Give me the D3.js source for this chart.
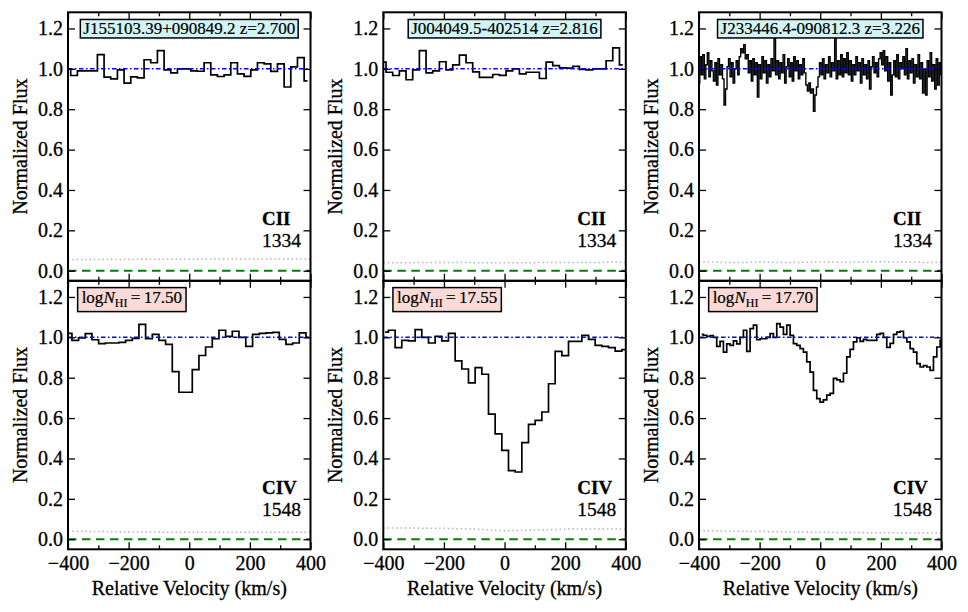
<!DOCTYPE html>
<html>
<head>
<meta charset="utf-8">
<script src="https://cdn.jsdelivr.net/npm/d3@7"></script>
<style>
  body { margin: 0; background: #fff; }
  text { font-family: "Liberation Serif", "Times New Roman", serif; fill: #000; stroke: #000; stroke-width: 0.3px; }
</style>
</head>
<body>
<div id="chart"></div>
<script>
// ---- data ----
const qsoLabels = ["J155103.39+090849.2 z=2.700", "J004049.5-402514 z=2.816", "J233446.4-090812.3 z=3.226"];
const logNValues = ["17.50", "17.55", "17.70"];
const ionTop = ["CII", "1334"];
const ionBottom = ["CIV", "1548"];

const errVel = [-400, -300, -200, -100, 0, 100, 200, 300, 400];

// column 1, CII 1334
const vel1a = [-402, -380, -358, -336, -314, -292, -270, -248, -226, -204, -182, -160, -138, -116, -94, -72, -50, -28, -6,
  16, 38, 60, 82, 104, 126, 148, 170, 192, 214, 236, 258, 280, 302, 324, 346, 368, 390];
const flux1a = [1.0, 0.967, 0.99, 0.99, 0.99, 1.07, 0.959, 0.95, 0.995, 0.929, 0.96, 0.955, 1.045, 1.03, 1.09, 0.995, 0.98, 1.0, 1.0,
  0.99, 0.988, 1.03, 0.97, 0.962, 0.97, 1.03, 0.975, 0.963, 0.995, 1.03, 1.025, 0.987, 1.025, 0.91, 1.01, 1.055, 0.94];
const err1a = [0.055, 0.055, 0.056, 0.057, 0.057, 0.058, 0.058, 0.058, 0.058];

// column 1, CIV 1548
const vel1b = [-398, -376, -354, -332, -310, -288, -265, -243, -221, -199, -177, -155, -133, -111, -89, -67, -45, -23, -1,
  21, 43, 65, 87, 109, 131, 153, 175, 198, 220, 242, 264, 286, 308, 330, 352, 374, 396];
const flux1b = [1.02, 0.985, 0.997, 1.018, 0.988, 0.969, 0.972, 0.972, 0.975, 0.985, 0.995, 1.064, 0.993, 1.015, 0.985, 0.965, 0.83, 0.728, 0.728,
  0.84, 0.91, 0.952, 0.993, 1.035, 1.005, 1.03, 1.0, 0.955, 1.015, 1.02, 1.022, 1.025, 0.99, 0.965, 0.972, 1.022, 1.0];
const err1b = [0.04, 0.038, 0.036, 0.035, 0.035, 0.034, 0.034, 0.035, 0.035];

// column 2, CII 1334
const vel2a = [-402, -380, -358, -336, -314, -292, -270, -248, -226, -204, -182, -160, -138, -116, -94, -72, -50, -28, -6,
  16, 38, 60, 82, 104, 126, 148, 170, 192, 214, 236, 258, 280, 302, 324, 346, 368, 390];
const flux2a = [1.033, 0.983, 0.967, 0.99, 0.946, 0.995, 1.09, 0.98, 0.99, 1.035, 0.995, 1.02, 1.068, 1.03, 0.985, 0.958, 0.958, 0.972, 0.968,
  0.99, 1.0, 0.975, 0.983, 0.983, 0.952, 1.033, 1.016, 1.005, 1.003, 1.012, 0.997, 0.995, 1.0, 1.0, 1.04, 1.104, 1.02];
const err2a = [0.04, 0.04, 0.041, 0.04, 0.04, 0.04, 0.041, 0.041, 0.042];

// column 2, CIV 1548
const vel2b = [-394, -372, -350, -328, -306, -284, -262, -240, -218, -196, -174, -152, -130, -108, -86, -64, -42, -20, 2,
  24, 46, 68, 90, 112, 134, 156, 178, 200, 222, 244, 266, 288, 310, 332, 354, 376, 398];
const flux2b = [1.026, 1.035, 0.949, 0.985, 0.982, 1.038, 1.0, 0.972, 1.005, 0.982, 1.02, 0.883, 0.843, 0.774, 0.85, 0.817, 0.62, 0.522, 0.44,
  0.34, 0.333, 0.478, 0.569, 0.589, 0.63, 0.77, 0.93, 0.909, 0.98, 0.98, 1.01, 0.99, 0.96, 0.955, 0.949, 0.932, 0.939];
const err2b = [0.055, 0.055, 0.054, 0.05, 0.042, 0.045, 0.05, 0.05, 0.05];

// column 3, CII 1334 (high resolution)
const vel3a = [-400, -395, -390, -385, -380, -375, -370, -365, -360, -355, -350, -345, -340, -335, -330, -325, -320, -315, -310, -305,
  -300, -295, -290, -285, -280, -275, -270, -265, -260, -255, -250, -245, -240, -235, -230, -225, -220, -215, -210, -205,
  -200, -195, -190, -185, -180, -175, -170, -165, -160, -155, -150, -145, -140, -135, -130, -125, -120, -115, -110, -105,
  -100, -95, -90, -85, -80, -75, -70, -65, -60, -55, -50, -45, -40, -35, -30, -25, -20, -15, -10, -5,
  0, 5, 10, 15, 20, 25, 30, 35, 40, 45, 50, 55, 60, 65, 70, 75, 80, 85, 90, 95,
  100, 105, 110, 115, 120, 125, 130, 135, 140, 145, 150, 155, 160, 165, 170, 175, 180, 185, 190, 195,
  200, 205, 210, 215, 220, 225, 230, 235, 240, 245, 250, 255, 260, 265, 270, 275, 280, 285, 290, 295,
  300, 305, 310, 315, 320, 325, 330, 335, 340, 345, 350, 355, 360, 365, 370, 375, 380, 385, 390, 395, 400];
const flux3a = [0.93, 1.06, 0.97, 1.07, 0.95, 1.02, 1.08, 0.96, 1.04, 0.99, 0.94, 1.03, 0.92, 1.05, 0.97, 1.02, 0.95, 0.82, 0.9, 1.01,
  1.05, 0.96, 1.03, 0.93, 1.0, 1.04, 0.97, 1.06, 1.1, 1.08, 1.12, 1.05, 1.07, 0.98, 1.04, 0.94, 1.05, 0.97, 1.03, 0.86,
  1.02, 0.95, 1.06, 0.98, 1.04, 0.93, 1.02, 0.96, 1.05, 0.99, 1.18, 0.97, 1.04, 0.95, 1.03, 0.98, 1.07, 0.93, 1.01, 1.05,
  0.96, 1.03, 0.94, 1.06, 0.99, 1.04, 0.95, 1.02, 0.97, 1.05, 0.98, 0.92, 0.89, 0.93, 0.88, 0.9, 0.79, 0.87, 0.91, 0.96,
  1.03, 0.97, 1.05, 0.95, 1.02, 0.98, 1.06, 0.96, 1.03, 0.99, 1.18, 0.95, 1.04, 0.97, 1.07, 0.96, 1.05, 0.98, 1.08, 0.97,
  1.04, 0.94, 1.02, 0.97, 1.06, 0.99, 1.03, 0.93, 1.05, 0.97, 1.02, 0.95, 1.04, 0.9, 1.01, 1.06, 0.98, 1.03, 0.96, 1.05,
  1.08, 1.02, 1.09, 0.99, 1.06, 0.94, 1.03, 0.87, 0.97, 1.04, 0.96, 1.07, 0.95, 1.03, 1.0, 1.06, 0.97, 1.1, 0.95, 1.04,
  0.98, 1.05, 0.93, 1.02, 0.96, 1.07, 0.95, 1.03, 0.88, 1.0, 0.87, 1.04, 0.96, 1.08, 0.94, 1.02, 0.9, 1.05, 0.92, 1.03, 0.97];
const err3a = [0.045, 0.04, 0.042, 0.04, 0.043, 0.041, 0.044, 0.042, 0.04];

// column 3, CIV 1548
const vel3b = [-391, -380, -369, -358, -347, -336, -325, -314, -303, -292, -281, -270, -259, -248, -237, -226, -215, -204, -193, -182,
  -171, -160, -149, -138, -127, -116, -105, -94, -83, -72, -61, -50, -39, -28, -17, -6, 5, 16, 27, 38,
  49, 60, 71, 82, 93, 104, 115, 126, 137, 148, 159, 170, 181, 192, 203, 214, 225, 236, 247, 258,
  269, 280, 291, 302, 313, 324, 335, 346, 357, 368, 379, 390, 401];
const flux3b = [1.015, 1.01, 1.005, 1.008, 1.0, 0.955, 0.98, 0.927, 0.968, 0.96, 0.982, 0.968, 1.0, 1.035, 0.93, 1.043, 1.06, 0.988, 0.993, 0.993,
  1.0, 1.018, 1.0, 1.068, 1.051, 1.015, 1.06, 1.01, 0.969, 0.96, 0.944, 0.927, 0.878, 0.828, 0.737, 0.696, 0.679, 0.69, 0.714, 0.722,
  0.797, 0.789, 0.78, 0.822, 0.903, 0.94, 0.977, 0.998, 0.98, 0.99, 0.985, 0.985, 0.985, 1.015, 1.02, 1.0, 0.95, 0.97, 1.015, 1.026,
  1.03, 0.998, 0.977, 0.944, 0.927, 0.87, 0.853, 0.86, 0.853, 0.836, 0.903, 0.952, 0.985];
const err3b = [0.043, 0.04, 0.038, 0.036, 0.034, 0.033, 0.032, 0.031, 0.03];

const xMajor = [-400, -200, 0, 200, 400];
const xMinor = [-300, -100, 100, 300];
const yTicks = [0, 0.2, 0.4, 0.6, 0.8, 1.0, 1.2];

// ---- layout ----
const width = 968, height = 612;
const panelW = 242.5, panelH = 268.5;
const colLeft = [68, 383.3, 699];
const topY = 12.3;
const serif = '"Liberation Serif", "Times New Roman", serif';

const svg = d3.select("#chart").append("svg")
  .attr("width", width)
  .attr("height", height);

const x = d3.scaleLinear().domain([-400, 400]).range([0, panelW]);
const y = d3.scaleLinear().domain([-0.05, 1.28]).range([panelH, 0]);

const panels = [
  {col: 0, row: 0, vel: vel1a, flux: flux1a, err: err1a, lw: 1.7},
  {col: 0, row: 1, vel: vel1b, flux: flux1b, err: err1b, lw: 1.7},
  {col: 1, row: 0, vel: vel2a, flux: flux2a, err: err2a, lw: 1.7},
  {col: 1, row: 1, vel: vel2b, flux: flux2b, err: err2b, lw: 1.7},
  {col: 2, row: 0, vel: vel3a, flux: flux3a, err: err3a, lw: 1.4},
  {col: 2, row: 1, vel: vel3b, flux: flux3b, err: err3b, lw: 1.7}
];

panels.forEach(p => drawPanel(p));

function styleAxis(sel) {
  sel.select(".domain").remove();
  sel.attr("font-family", serif).attr("font-size", 20);
  sel.selectAll("line").attr("stroke", "#000").attr("stroke-width", 1.3);
}

function drawPanel(p) {
  const g = svg.append("g")
    .attr("transform", `translate(${colLeft[p.col]},${topY + p.row * panelH})`);

  const clipId = `clip${p.col}${p.row}`;
  g.append("clipPath").attr("id", clipId)
    .append("rect").attr("width", panelW).attr("height", panelH);

  const plot = g.append("g").attr("clip-path", `url(#${clipId})`);

  const errLine = d3.line().x(d => x(d[0])).y(d => y(d[1]));
  const stepLine = d3.line().x(d => x(d[0])).y(d => y(d[1])).curve(d3.curveStep);

  // error spectrum
  plot.append("path")
    .datum(d3.zip(errVel, p.err))
    .attr("d", errLine)
    .attr("fill", "none")
    .attr("stroke", "#b4b4b4")
    .attr("stroke-width", 1.5)
    .attr("stroke-dasharray", "1.5,2.8");

  // zero level
  plot.append("line")
    .attr("x1", x(-400)).attr("x2", x(400))
    .attr("y1", y(0)).attr("y2", y(0))
    .attr("stroke", "#008000")
    .attr("stroke-width", 2)
    .attr("stroke-dasharray", "8.5,5.5");

  // flux
  plot.append("path")
    .datum(d3.zip(p.vel, p.flux))
    .attr("d", stepLine)
    .attr("fill", "none")
    .attr("stroke", "#000")
    .attr("stroke-width", p.lw)
    .attr("stroke-linejoin", "miter");

  // continuum
  plot.append("line")
    .attr("x1", x(-400)).attr("x2", x(400))
    .attr("y1", y(1)).attr("y2", y(1))
    .attr("stroke", "#0000ff")
    .attr("stroke-width", 1.5)
    .attr("stroke-dasharray", "4.5,2.5,1.5,2.5");

  // axes, ticks pointing inwards
  g.append("g")
    .call(d3.axisLeft(y).tickValues(yTicks).tickFormat(d3.format(".1f")).tickSize(-7).tickPadding(5))
    .call(styleAxis);
  g.append("g")
    .attr("transform", `translate(${panelW},0)`)
    .call(d3.axisRight(y).tickValues(yTicks).tickFormat("").tickSize(-7))
    .call(styleAxis);

  g.append("g")
    .call(d3.axisTop(x).tickValues(xMajor).tickFormat("").tickSize(-7))
    .call(styleAxis);
  g.append("g")
    .call(d3.axisTop(x).tickValues(xMinor).tickFormat("").tickSize(-4))
    .call(styleAxis);

  g.append("g")
    .attr("transform", `translate(0,${panelH})`)
    .call(d3.axisBottom(x).tickValues(xMajor)
      .tickFormat(p.row === 1 ? d3.format("d") : "").tickSize(-7).tickPadding(7))
    .call(styleAxis);
  g.append("g")
    .attr("transform", `translate(0,${panelH})`)
    .call(d3.axisBottom(x).tickValues(xMinor).tickFormat("").tickSize(-4))
    .call(styleAxis);

  // frame
  g.append("rect")
    .attr("width", panelW).attr("height", panelH)
    .attr("fill", "none")
    .attr("stroke", "#000")
    .attr("stroke-width", 2);

  // y label
  g.append("text")
    .attr("transform", `translate(-48,${panelH / 2}) rotate(-90)`)
    .attr("text-anchor", "middle")
    .attr("dy", "0.35em")
    .attr("font-size", 20)
    .text("Normalized Flux");

  if (p.row === 1) {
    g.append("text")
      .attr("x", panelW / 2)
      .attr("y", panelH + 46)
      .attr("text-anchor", "middle")
      .attr("font-size", 20)
      .text("Relative Velocity (km/s)");
  }

  // transition label, two lines
  const ion = p.row === 0 ? ionTop : ionBottom;
  g.append("text")
    .attr("x", x(240)).attr("y", y(0.226))
    .attr("font-size", 19)
    .attr("font-weight", "bold")
    .text(ion[0]);
  g.append("text")
    .attr("x", x(240)).attr("y", y(0.115))
    .attr("font-size", 19.5)
    .text(ion[1]);

  // boxed labels
  if (p.row === 0) {
    const box = g.append("g");
    const t = box.append("text")
      .attr("x", x(0)).attr("y", y(1.2))
      .attr("text-anchor", "middle")
      .attr("dominant-baseline", "central")
      .attr("font-size", 17)
      .style("stroke-width", "0.2px")
      .text(qsoLabels[p.col]);
    const bb = t.node().getBBox();
    box.insert("rect", "text")
      .attr("x", bb.x - 3).attr("y", bb.y + 0.5)
      .attr("width", bb.width + 6).attr("height", bb.height - 0.5)
      .attr("fill", "#d2f4f4")
      .attr("stroke", "#000")
      .attr("stroke-width", 1.5);
  } else {
    const box = g.append("g");
    const t = box.append("text")
      .attr("x", x(-355)).attr("y", y(1.172))
      .attr("font-size", 17)
      .style("stroke-width", "0.2px");
    t.append("tspan").text("log");
    t.append("tspan").attr("font-style", "italic").text("N");
    t.append("tspan").attr("font-size", 12).attr("dy", 4).text("HI");
    t.append("tspan").attr("dy", -4).text("\u2009=\u2009" + logNValues[p.col]);
    const bb = t.node().getBBox();
    box.insert("rect", "text")
      .attr("x", bb.x - 4).attr("y", bb.y)
      .attr("width", bb.width + 8).attr("height", bb.height + 2)
      .attr("fill", "#fadad6")
      .attr("stroke", "#000")
      .attr("stroke-width", 1.5);
  }
}
</script>
</body>
</html>
